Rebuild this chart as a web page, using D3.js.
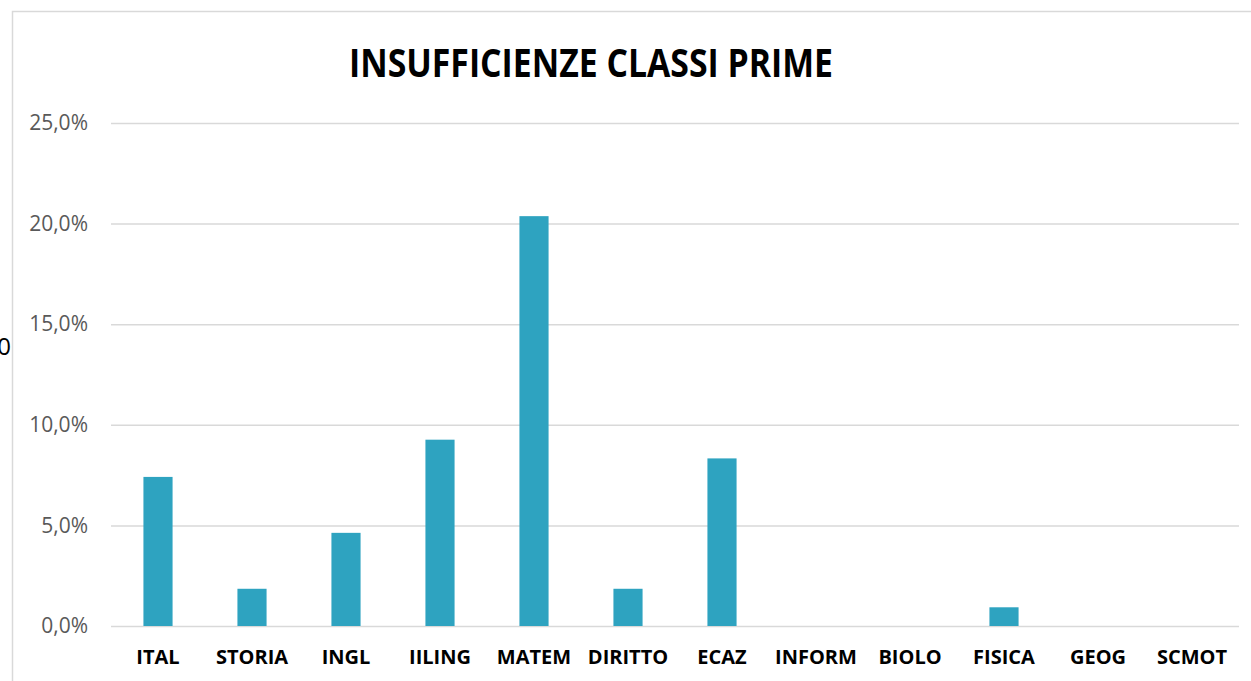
<!DOCTYPE html>
<html>
<head>
<meta charset="utf-8">
<script src="https://cdn.jsdelivr.net/npm/d3@7"></script>
<style>
  body { margin: 0; background: #fff; }
  svg { display: block; font-family: "Open Sans", sans-serif; }
</style>
</head>
<body>
<div id="chart"></div>
<script>
var subjects = ["ITAL", "STORIA", "INGL", "IILING", "MATEM", "DIRITTO", "ECAZ", "INFORM", "BIOLO", "FISICA", "GEOG", "SCMOT"]
var insuff = [0.0741, 0.0185, 0.0463, 0.0926, 0.2037, 0.0185, 0.0833, 0, 0, 0.0093, 0, 0]
var yTicks = [0, 0.05, 0.10, 0.15, 0.20, 0.25]
var title = "INSUFFICIENZE CLASSI PRIME"

var W = 1251, H = 681
var margin = {top: 123, right: 12, bottom: 55, left: 111},
    width = W - margin.left - margin.right,
    height = H - margin.top - margin.bottom;

var it = d3.formatLocale({decimal: ",", thousands: ".", grouping: [3], currency: ["", " €"]})
var pct = it.format(".1%")

var svg = d3.select("#chart")
    .append("svg")
      .attr("width", W)
      .attr("height", H)

// chart border
svg.append("rect")
    .attr("x", 12.5)
    .attr("y", 11.5)
    .attr("width", W + 20)
    .attr("height", H + 20)
    .attr("fill", "none")
    .attr("stroke", "#d9d9d9")
    .attr("stroke-width", 1.5)

svg.append("text")
    .attr("x", 591)
    .attr("y", 77)
    .attr("text-anchor", "middle")
    .attr("font-size", 40)
    .attr("font-weight", 700)
    .attr("textLength", 484)
    .attr("lengthAdjust", "spacingAndGlyphs")
    .attr("fill", "#000")
    .text(title)

// leftover axis title, cut by the border
svg.append("text")
    .attr("x", 11)
    .attr("y", 355)
    .attr("text-anchor", "end")
    .attr("font-size", 24)
    .attr("fill", "#000")
    .text("0")

var g = svg.append("g")
    .attr("transform", "translate(" + margin.left + "," + margin.top + ")")

var x = d3.scaleBand()
    .domain(subjects)
    .range([0, width])
    .paddingInner(0.69)
    .paddingOuter(0.345)

var y = d3.scaleLinear()
    .domain([0, 0.25])
    .range([height, 0])

// gridlines + y labels
g.append("g")
    .call(d3.axisLeft(y).tickValues(yTicks).tickSize(-width).tickFormat(pct).tickPadding(23))
    .call(function(a) {
        a.select(".domain").remove()
        a.selectAll(".tick line").attr("stroke", "#d9d9d9").attr("stroke-width", 1.5)
        a.selectAll(".tick text").attr("fill", "#595959").attr("font-size", 21)
            .attr("font-family", "'Open Sans', sans-serif")
    })

g.selectAll(".bar")
    .data(insuff)
    .enter()
    .append("rect")
    .attr("class", "bar")
    .attr("x", function(d, i) { return x(subjects[i]); })
    .attr("y", function(d) { return y(d); })
    .attr("width", x.bandwidth())
    .attr("height", function(d) { return height - y(d); })
    .attr("fill", "#2ea3c0")

// category labels
g.append("g")
    .attr("transform", "translate(0," + height + ")")
    .call(d3.axisBottom(x).tickSize(0).tickPadding(24))
    .call(function(a) {
        a.select(".domain").remove()
        a.selectAll(".tick text").attr("fill", "#000").attr("font-size", 20)
            .attr("font-weight", 700)
            .attr("font-family", "'Open Sans', sans-serif")
    })
</script>
</body>
</html>
